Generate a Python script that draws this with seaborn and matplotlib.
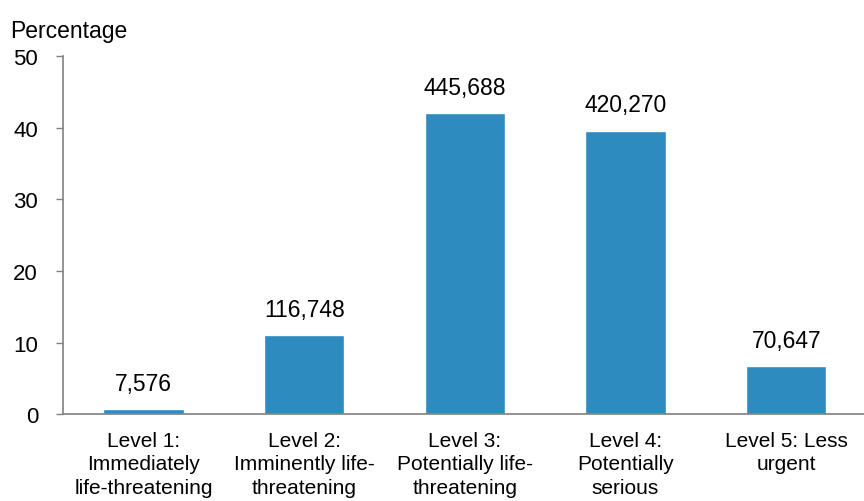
import matplotlib
matplotlib.use("Agg")
import matplotlib.pyplot as plt
import seaborn as sns
import pandas as pd

# Triage category data
categories = [
    "Level 1:\nImmediately\nlife-threatening",
    "Level 2:\nImminently life-\nthreatening",
    "Level 3:\nPotentially life-\nthreatening",
    "Level 4:\nPotentially\nserious",
    "Level 5: Less\nurgent",
]
percentages = [0.71, 11.0, 42.0, 39.6, 6.66]
counts = [7576, 116748, 445688, 420270, 70647]

df = pd.DataFrame({"category": categories, "pct": percentages, "count": counts})

sns.set_style("white")
plt.rcParams["font.family"] = ["Liberation Sans", "DejaVu Sans"]
plt.rcParams["text.color"] = "black"

fig = plt.figure(figsize=(8.64, 5.02), dpi=100)
ax = fig.add_axes([0.073, 0.173, 0.93, 0.713])

sns.barplot(data=df, x="category", y="pct", color="#2E8BC0", width=0.5,
            saturation=1, ax=ax)

# count labels above each bar
for i, (p, c) in enumerate(zip(percentages, counts)):
    ax.text(i, p + 2.0, f"{c:,}", ha="center", va="bottom", fontsize=16.5)

ax.set_ylim(0, 50)
ax.set_yticks([0, 10, 20, 30, 40, 50])
ax.set_xlim(-0.5, 4.5)
ax.set_xlabel("")
ax.set_ylabel("")
ax.tick_params(axis="y", labelsize=16, length=5, width=1, color="#808080",
               labelcolor="black", direction="out", left=True, pad=13)
ax.tick_params(axis="x", labelsize=15, length=0, pad=12, labelcolor="black")
for lbl in ax.get_xticklabels():
    lbl.set_linespacing(1.3)

for side in ["top", "right"]:
    ax.spines[side].set_visible(False)
for side in ["left", "bottom"]:
    ax.spines[side].set_color("#808080")
    ax.spines[side].set_linewidth(1.2)

fig.text(0.012, 0.924, "Percentage", fontsize=16.5, ha="left", va="baseline")

fig.savefig("out.png", dpi=100)
